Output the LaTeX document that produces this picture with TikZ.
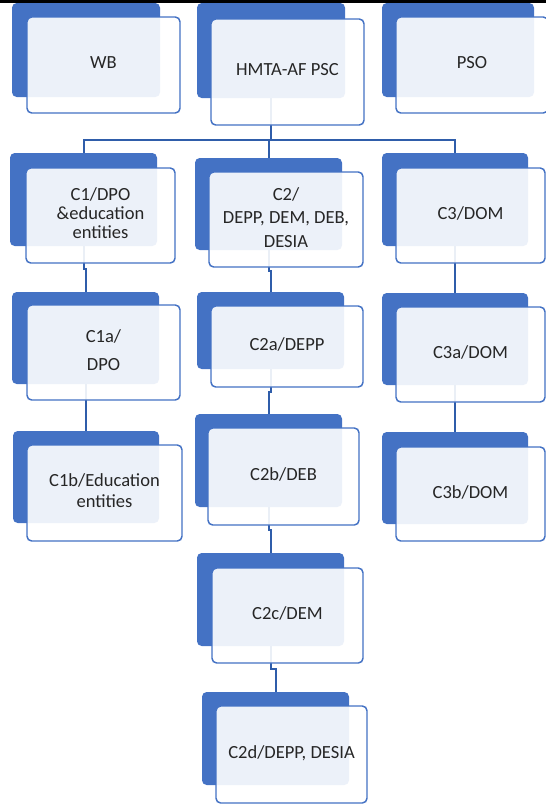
\documentclass[tikz,border=0pt]{standalone}
\usepackage{fontspec}
\setmainfont{Carlito}
\usepackage{tikz}
\usetikzlibrary{fit,calc}
\definecolor{cardBlue}{HTML}{4472C4}
\definecolor{linkBlue}{HTML}{2F5DAA}
\definecolor{txtDark}{HTML}{262626}

\begin{document}
\begin{tikzpicture}[x=0.75pt,y=-0.75pt,
  back/.style={fill=cardBlue,draw=none,rounded corners=3.5pt,inner sep=0pt},
  card/.style={draw=cardBlue,line width=1.1pt,fill=white,fill opacity=0.9,text opacity=1,
    rounded corners=3.5pt,inner sep=0pt,align=center,text=txtDark,text depth=3.5pt,
    font=\fontsize{13.9}{17}\selectfont},
  wh/.style 2 args={minimum width=#1*0.75pt,minimum height=#2*0.75pt},
  link/.style={draw=linkBlue,line width=1.5pt}
]
\useasboundingbox (0,0) rectangle (546,804);
\fill[black] (0,0) rectangle (546,2.5);

% back plates
\node[back,fit={(12,3) (160,97)}] (wbB) {};
\node[back,fit={(197,3) (345,98)}] (hmB) {};
\node[back,fit={(382,3) (534,97)}] (psoB) {};
\node[back,fit={(10,153) (157,246)}] (c1B) {};
\node[back,fit={(195,158) (342,250)}] (c2B) {};
\node[back,fit={(382,153) (528,246)}] (c3B) {};
\node[back,fit={(12,292) (159,384)}] (c1aB) {};
\node[back,fit={(197,292) (344,369)}] (c2aB) {};
\node[back,fit={(382,293) (528,385)}] (c3aB) {};
\node[back,fit={(13,431) (159,523)}] (c1bB) {};
\node[back,fit={(195,414) (342,507)}] (c2bB) {};
\node[back,fit={(382,432) (528,524)}] (c3bB) {};
\node[back,fit={(197,553) (344,646)}] (c2cB) {};
\node[back,fit={(202,692) (349,785)}] (c2dB) {};

% connectors
\coordinate (bus) at (0,140);
\draw[link] (hmB.south) -- (hmB.south |- bus);
\draw[link] (c1B.north) |- (c3B.north |- bus) -- (c3B.north);
\draw[link] (c2B.north) -- (c2B.north |- bus);
\draw[link] (c1B.south) |- ($(c1B.south)!.5!(c1aB.north)$) -| (c1aB.north);
\draw[link] (c1aB.south) |- ($(c1aB.south)!.5!(c1bB.north)$) -| (c1bB.north);
\draw[link] (c2B.south) |- ($(c2B.south)!.5!(c2aB.north)$) -| (c2aB.north);
\draw[link] (c2aB.south) |- ($(c2aB.south)!.5!(c2bB.north)$) -| (c2bB.north);
\draw[link] (c2bB.south) |- ($(c2bB.south)!.5!(c2cB.north)$) -| (c2cB.north);
\draw[link] (c2cB.south) |- ($(c2cB.south)!.5!(c2dB.north)$) -| (c2dB.north);
\draw[link] (c3B.south) |- ($(c3B.south)!.5!(c3aB.north)$) -| (c3aB.north);
\draw[link] (c3aB.south) |- ($(c3aB.south)!.5!(c3bB.north)$) -| (c3bB.north);

% front cards
\node[card,wh={153}{96}] (wb) at (103.5,65) {WB};
\node[card,wh={153}{106}] (hm) at (287.5,72) {HMTA-AF PSC};
\node[card,wh={152}{96}] (pso) at (472,65) {PSO};
\node[card,wh={149}{95}] (c1) at (100.5,215.5) {C1/DPO\\[-2.5pt]\&education\\[-2.5pt]entities};
\node[card,wh={154}{95}] (c2) at (286,219.5) {C2/\\[0.6pt]DEPP, DEM, DEB,\\[0.6pt]DESIA};
\node[card,wh={149}{95}] (c3) at (470.5,215.5) {C3/DOM};
\node[card,wh={153}{95}] (c1a) at (103.5,352.5) {C1a/\\[4pt]DPO};
\node[card,wh={152}{81}] (c2a) at (287,346.5) {C2a/DEPP};
\node[card,wh={149}{95}] (c3a) at (470.5,354.5) {C3a/DOM};
\node[card,wh={155}{96}] (c1b) at (104.5,493) {C1b/Education\\[-1pt]entities};
\node[card,wh={151}{97}] (c2b) at (283.5,476.5) {C2b/DEB};
\node[card,wh={149}{94}] (c3b) at (470.5,494) {C3b/DOM};
\node[card,wh={151}{95}] (c2c) at (287.5,615.5) {C2c/DEM};
\node[card,wh={151}{97}] (c2d) at (291.5,754.5) {C2d/DEPP, DESIA};
\end{tikzpicture}
\end{document}
